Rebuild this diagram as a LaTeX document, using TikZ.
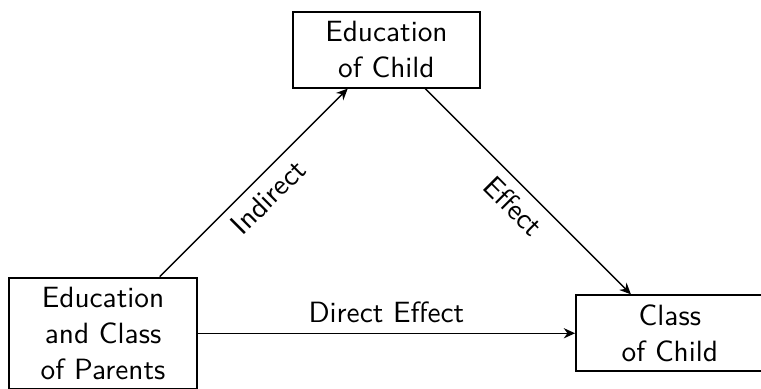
\documentclass[tikz,border=0pt]{standalone}
\usetikzlibrary{arrows.meta, positioning}

\begin{document}
\begin{tikzpicture}[
  box/.style={draw, line width=0.7pt, text width=59.2pt, align=center,
    font=\sffamily\fontsize{10.3}{12.6}\selectfont},
  edge/.style={-{Stealth[length=4pt, width=3.6pt]}, line width=0.5pt},
  lbl/.style={font=\sffamily\fontsize{10.3}{12.6}\selectfont},
  on grid
]
\useasboundingbox (-36.2pt,-19.3pt) rectangle (231.2pt,117.1pt);

\node[box] (parents) {Education\\and Class\\of Parents};
\node[box, above right=3.5cm and 3.5cm of parents] (educhild) {Education\\of Child};
\node[box, right=7cm of parents] (classchild) {Class\\of Child};

\draw[edge] (parents) -- node[lbl, sloped, below] {Indirect} (educhild);
\draw[edge] (educhild) -- node[lbl, sloped, below] {Effect} (classchild);
\draw[edge] (parents) -- node[lbl, above] {Direct Effect} (classchild);
\end{tikzpicture}
\end{document}
